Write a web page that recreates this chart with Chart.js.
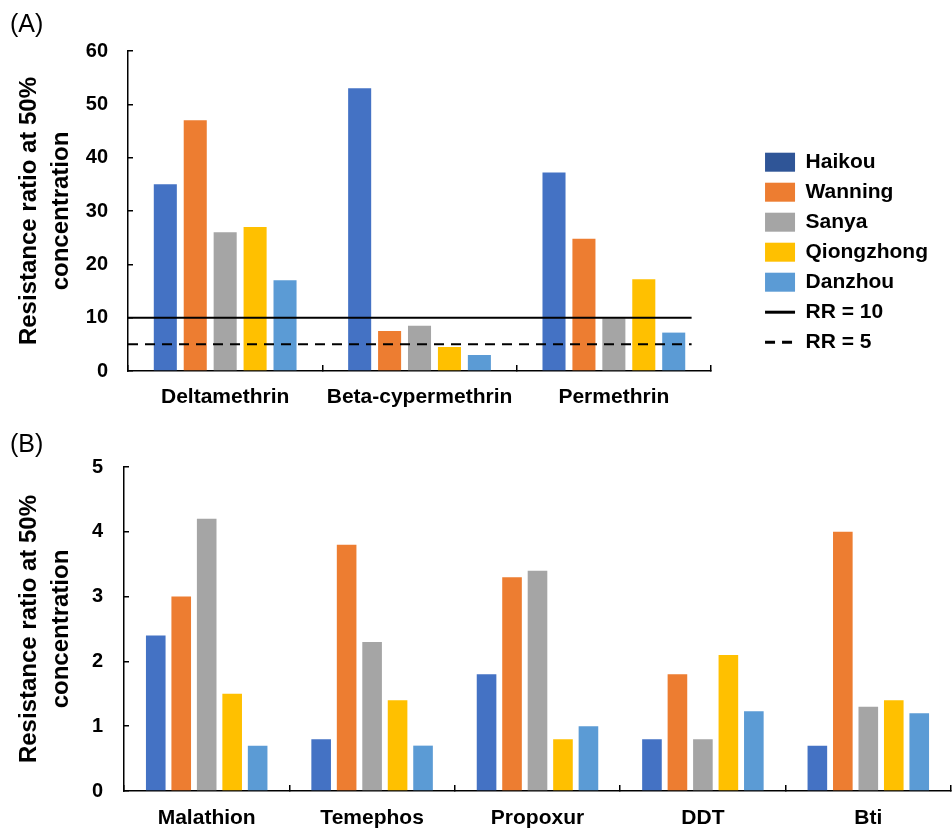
<!DOCTYPE html>
<html>
<head>
<meta charset="utf-8">
<script src="https://cdn.jsdelivr.net/npm/chart.js@4.4.0/dist/chart.umd.min.js"></script>
<style>
  html, body { margin: 0; padding: 0; background: #fff; }
  #wrapA { position: absolute; left: 0; top: 0; width: 952px; height: 412px; }
  #wrapB { position: absolute; left: 0; top: 412px; width: 952px; height: 418px; }
</style>
</head>
<body>
<div id="wrapA"><canvas id="chartA"></canvas></div>
<div id="wrapB"><canvas id="chartB"></canvas></div>
<script>
// populations
const sites = ["Haikou", "Wanning", "Sanya", "Qiongzhong", "Danzhou"];

// (A) pyrethroids
const pyrethroids = ["Deltamethrin", "Beta-cypermethrin", "Permethrin"];
const haikouA = [35, 53, 37.2];
const wanningA = [47, 7.5, 24.8];
const sanyaA = [26, 8.5, 9.9];
const qiongzhongA = [27, 4.5, 17.2];
const danzhouA = [17, 3, 7.2];
const yMaxA = 60, yStepA = 10;

// RR threshold lines, span given in category-index units (-0.5 = left edge of first group)
const rrValues = [10, 5];
const rrLabels = ["RR = 10", "RR = 5"];
const rrSpan = [-0.5, 2.4];

// (B) other insecticides
const others = ["Malathion", "Temephos", "Propoxur", "DDT", "Bti"];
const haikouB = [2.4, 0.8, 1.8, 0.8, 0.7];
const wanningB = [3.0, 3.8, 3.3, 1.8, 4.0];
const sanyaB = [4.2, 2.3, 3.4, 0.8, 1.3];
const qiongzhongB = [1.5, 1.4, 0.8, 2.1, 1.4];
const danzhouB = [0.7, 0.7, 1.0, 1.23, 1.2];
const yMaxB = 5, yStepB = 1;

const colors = ["#4472C4", "#ED7D31", "#A5A5A5", "#FFC000", "#5B9BD5"];
const haikouLegend = "#2F5597";
const rrDash = [[], [10, 7]];

Chart.defaults.font.family = "'Liberation Sans', Arial, sans-serif";
Chart.defaults.color = "#000";

const axisTitle = ["Resistance ratio at 50%", "concentration"];

function barSets(series) {
  return series.map((vals, i) => ({
    label: sites[i],
    data: vals,
    backgroundColor: colors[i],
    borderWidth: 0,
    pointStyle: "rect",
    categoryPercentage: 0.77,
    barPercentage: 0.77
  }));
}

function yAxis(max, step, width, pad) {
  return {
    min: 0, max: max,
    ticks: { stepSize: step, padding: pad, font: { size: 20, weight: "bold" }, color: "#000" },
    grid: { drawOnChartArea: false, tickLength: -5, color: "#000", lineWidth: 1.5 },
    border: { color: "#000", width: 1.5 },
    title: {
      display: true, text: axisTitle, color: "#000",
      font: { size: 24, weight: "bold", lineHeight: 1.35 },
      padding: { top: 3, bottom: 0 }
    },
    afterFit(scale) { scale.width = width; }
  };
}

function xAxis(height, pad) {
  return {
    offset: true,
    ticks: { padding: pad, font: { size: 21, weight: "bold" }, color: "#000", maxRotation: 0 },
    grid: { drawOnChartArea: false, tickLength: -6, color: "#000", lineWidth: 1.5 },
    border: { color: "#000", width: 1.5 },
    afterFit(scale) { scale.height = height; }
  };
}

// ---- chart A
const lineSets = rrValues.map((v, i) => ({
  type: "line",
  label: rrLabels[i],
  parsing: false,
  data: rrSpan.map(x => ({ x: x, y: v })),
  borderColor: "#000",
  borderWidth: 2,
  borderDash: rrDash[i],
  pointRadius: 0,
  pointStyle: "line",
  order: -1
}));

new Chart(document.getElementById("chartA"), {
  type: "bar",
  data: {
    labels: pyrethroids,
    datasets: barSets([haikouA, wanningA, sanyaA, qiongzhongA, danzhouA]).concat(lineSets)
  },
  options: {
    responsive: true,
    maintainAspectRatio: false,
    animation: false,
    layout: { padding: { left: 10, right: 14, top: 0, bottom: 0 } },
    scales: {
      x: xAxis(41, 20),
      y: yAxis(yMaxA, yStepA, 118, 25),
      gap: {
        type: "linear", position: "right", display: true,
        grid: { display: false }, ticks: { display: false }, border: { display: false },
        afterFit(scale) { scale.width = 45; }
      }
    },
    plugins: {
      title: {
        display: true, text: "(A)", align: "start", color: "#000",
        font: { size: 25, weight: "normal" },
        padding: { top: 10, bottom: 11 }
      },
      tooltip: { enabled: false },
      legend: {
        position: "right",
        align: "center",
        maxWidth: 220,
        title: { display: true, text: "", padding: { top: 39, bottom: 39 } },
        labels: {
          usePointStyle: true,
          pointStyleWidth: 30,
          boxHeight: 19,
          padding: 9,
          color: "#000",
          font: { size: 21, weight: "bold" },
          sort: (a, b) => a.datasetIndex - b.datasetIndex,
          generateLabels(chart) {
            const items = Chart.defaults.plugins.legend.labels.generateLabels(chart);
            items.forEach(it => {
              const ds = chart.data.datasets[it.datasetIndex];
              if (it.datasetIndex === 0) it.fillStyle = haikouLegend;
              if (ds.type === "line") {
                it.strokeStyle = "#000";
                it.lineWidth = 3;
                it.lineDash = ds.borderDash;
              }
            });
            return items;
          }
        }
      }
    }
  }
});

// ---- chart B
new Chart(document.getElementById("chartB"), {
  type: "bar",
  data: {
    labels: others,
    datasets: barSets([haikouB, wanningB, sanyaB, qiongzhongB, danzhouB])
  },
  options: {
    responsive: true,
    maintainAspectRatio: false,
    animation: false,
    layout: { padding: { left: 10, right: 1, top: 0, bottom: 0 } },
    scales: {
      x: xAxis(39, 21),
      y: yAxis(yMaxB, yStepB, 114, 26)
    },
    plugins: {
      title: {
        display: true, text: "(B)", align: "start", color: "#000",
        font: { size: 25, weight: "normal" },
        padding: { top: 18, bottom: 7 }
      },
      tooltip: { enabled: false },
      legend: { display: false }
    }
  }
});
</script>
</body>
</html>
